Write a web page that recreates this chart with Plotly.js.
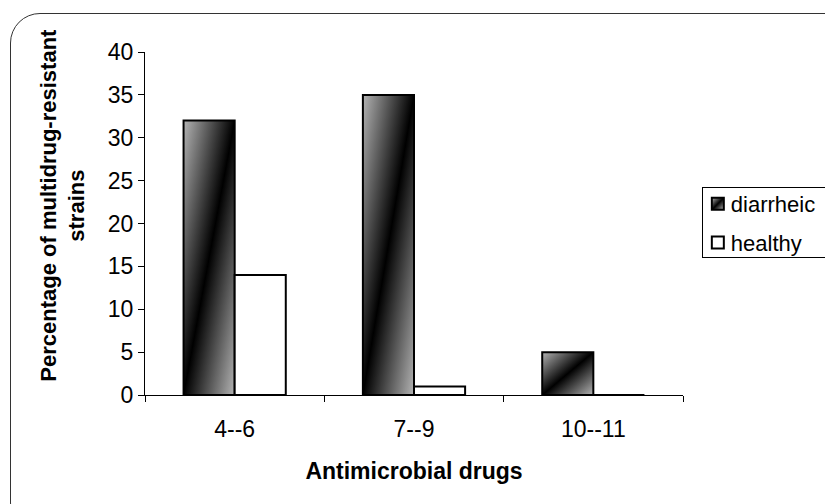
<!DOCTYPE html>
<html>
<head>
<meta charset="utf-8">
<script src="https://cdn.plot.ly/plotly-3.0.1.min.js"></script>
<style>
  html, body { margin:0; padding:0; width:825px; height:504px; overflow:hidden; background:#fff; }
  #frame { position:absolute; left:10px; top:13px; width:850px; height:520px; border:1.5px solid #333; border-radius:30px; box-sizing:border-box; pointer-events:none; z-index:5; }
  #chart { position:absolute; left:0; top:0; width:825px; height:504px; }
</style>
</head>
<body>
<div id="chart"></div>
<div id="frame"></div>
<script>
const categories = ['4--6', '7--9', '10--11'];
const diarrheic = [32, 35, 5];
const healthy = [14, 1, 0];
const seriesNames = ['diarrheic', 'healthy'];
const yTicks = [0, 5, 10, 15, 20, 25, 30, 35, 40];
const xTitle = 'Antimicrobial drugs';
const yTitle = 'Percentage of multidrug-resistant<br>strains';

const font = 'Liberation Sans, Arial, sans-serif';
const data = [
  { type:'bar', name:seriesNames[0], legendgroup:'a', x:categories, y:diarrheic,
    marker:{ color:'#555', line:{ color:'#000', width:2 } } },
  { type:'bar', name:seriesNames[1], legendgroup:'b', x:categories, y:healthy,
    marker:{ color:'#fff', line:{ color:'#000', width:2 } } }
];
const layout = {
  width:825, height:504,
  margin:{ l:145, r:142, t:52, b:109, autoexpand:false },
  paper_bgcolor:'rgba(0,0,0,0)', plot_bgcolor:'#fff',
  barmode:'group', bargap:0.43, bargroupgap:0,
  font:{ family:font, size:22, color:'#000' },
  showlegend:true,
  legend:{ x:1.035, xanchor:'left', y:0.621, yanchor:'top',
    bordercolor:'#000', borderwidth:1, bgcolor:'#fff',
    traceorder:'grouped', tracegroupgap:7,
    font:{ family:font, size:22, color:'#000' }, itemwidth:30 },
  xaxis:{ type:'category', tickson:'boundaries', ticks:'outside', ticklen:6, tickcolor:'#000',
    showline:true, linecolor:'#000', linewidth:1, showgrid:false, zeroline:false,
    tickfont:{ family:font, size:23 }, ticklabelstandoff:13,
    title:{ text:'<b>' + xTitle + '</b>', font:{ family:font, size:23 }, standoff:22 } },
  yaxis:{ range:[0, 40], tickvals:yTicks, ticks:'outside', ticklen:6, tickcolor:'#000',
    showline:true, linecolor:'#000', linewidth:1, showgrid:false, zeroline:false,
    tickfont:{ family:font, size:23 } },
  annotations:[{ xref:'paper', yref:'paper', x:-0.153, y:0.554, xanchor:'center', yanchor:'middle',
    textangle:-90, showarrow:false, text:'<b>' + yTitle + '</b>',
    font:{ family:font, size:22, color:'#000' } }]
};

Plotly.newPlot('chart', data, layout, { staticPlot:true, displayModeBar:false }).then(function(gd){
  const svg = gd.querySelector('svg.main-svg');
  const ns = 'http://www.w3.org/2000/svg';
  let defs = svg.querySelector('defs');
  if (!defs) { defs = document.createElementNS(ns, 'defs'); svg.insertBefore(defs, svg.firstChild); }
  const g = document.createElementNS(ns, 'linearGradient');
  g.setAttribute('id', 'diagGrad');
  g.setAttribute('x1', '0'); g.setAttribute('y1', '0');
  g.setAttribute('x2', '1'); g.setAttribute('y2', '1');
  [['0', '#b4b4b4'], ['0.5', '#000000'], ['1', '#b4b4b4']].forEach(function(s){
    const st = document.createElementNS(ns, 'stop');
    st.setAttribute('offset', s[0]); st.setAttribute('stop-color', s[1]);
    g.appendChild(st);
  });
  defs.appendChild(g);
  const traces = gd.querySelectorAll('.barlayer .trace');
  if (traces[0]) traces[0].querySelectorAll('path').forEach(function(p){ p.style.fill = 'url(#diagGrad)'; });
  const leg = gd.querySelectorAll('.legend .traces');
  if (leg[0]) leg[0].querySelectorAll('.legendpoints path').forEach(function(p){ p.style.fill = 'url(#diagGrad)'; });
  // tighten legend: symbol and text closer like the reference
  leg.forEach(function(t){
    const pts = t.querySelector('.legendpoints');
    if (pts) pts.setAttribute('transform', 'translate(-5,0)');
    const txt = t.querySelector('.legendtext');
    if (txt) { const x = parseFloat(txt.getAttribute('x') || '40'); txt.setAttribute('x', x - 12); }
  });
  const bg = gd.querySelector('.legend .bg');
  if (bg) {
    const w = parseFloat(bg.getAttribute('width'));
    bg.setAttribute('width', w - 2);
    bg.setAttribute('y', 6);
    bg.setAttribute('height', 70);
  }
});
</script>
</body>
</html>
